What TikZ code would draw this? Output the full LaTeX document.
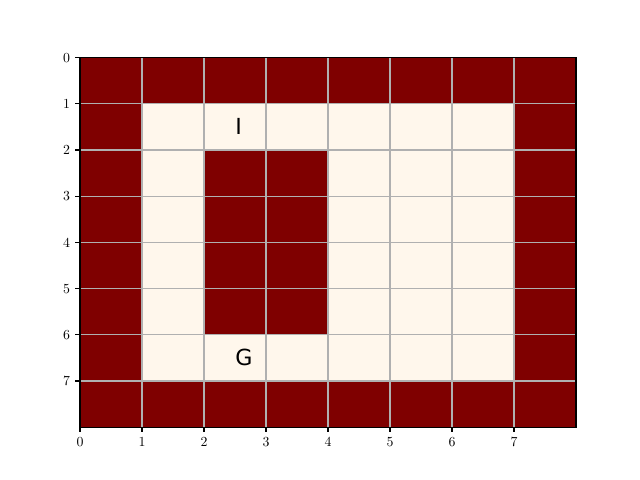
\documentclass[tikz,border=0pt]{standalone}
\usepackage{fontspec}
\usepackage{tikz}
\usetikzlibrary{positioning,calc}
\newfontfamily\markfont{DejaVu Sans}
\definecolor{wallred}{RGB}{127,0,0}
\definecolor{floorcream}{RGB}{255,247,236}
\definecolor{gridgray}{RGB}{176,176,176}

\begin{document}
\begin{tikzpicture}[
        x=0.62in, y=-0.462in,
        wall/.style={fill=wallred, draw=none},
        floor/.style={fill=floorcream, draw=none},
        gridline/.style={draw=gridgray, line width=0.8pt},
        spine/.style={draw=black, line width=0.8pt},
        tickmark/.style={draw=black, line width=0.8pt},
        ticklabel/.style={font=\fontsize{10}{12}\selectfont, inner sep=0pt},
        cellmark/.style={font=\markfont\fontsize{16}{19}\selectfont, inner sep=0pt, anchor=west}
    ]
        \useasboundingbox (-1.29032,-1.24675) rectangle (9.03226,9.14286);

        \fill[wall] (0,0) rectangle (8,8);
        \fill[floor] (1,1) rectangle (7,7);
        \fill[wall] (2,2) rectangle (4,6);

        \foreach \k in {1,...,7} {
            \draw[gridline] (\k,0) -- (\k,8);
            \draw[gridline] (0,\k) -- (8,\k);
        }
        \draw[spine] (0,0) rectangle (8,8);

        \foreach \k in {0,...,7} {
            \draw[tickmark] (\k,8) -- ++(0,-3.5pt);
            \node[ticklabel, anchor=north] (xt\k) at ($(\k,8)+(0,-7pt)$) {\k};
            \draw[tickmark] (0,\k) -- ++(-3.5pt,0);
            \node[ticklabel, anchor=east] (yt\k) at ($(0,\k)+(-7pt,0)$) {\k};
        }

        \node[cellmark] (start) at (2.5,1.5) {I};
        \node[cellmark] (goal) at (2.5,6.5) {G};
    \end{tikzpicture}
\end{document}
